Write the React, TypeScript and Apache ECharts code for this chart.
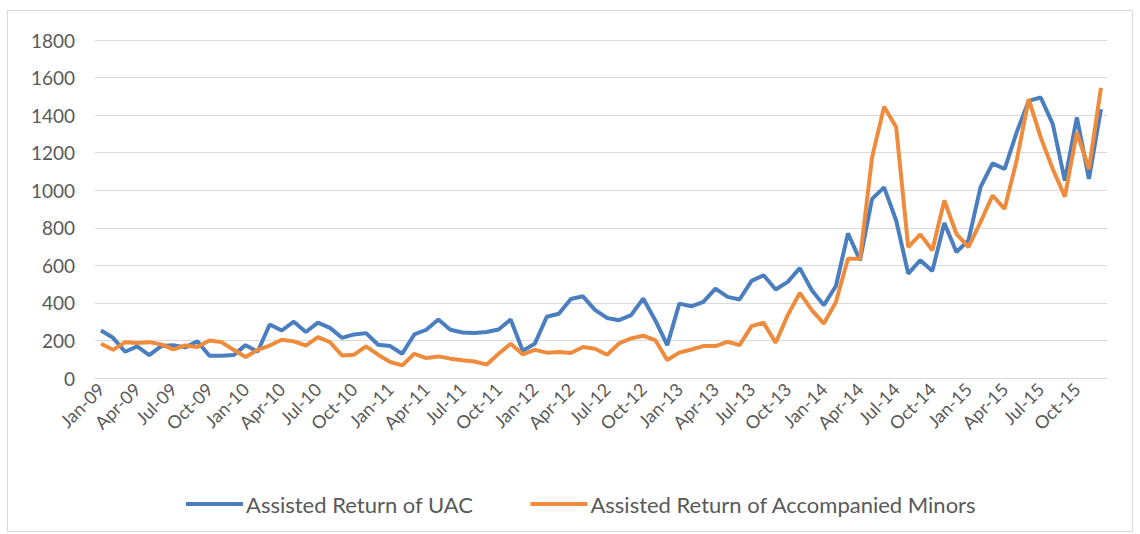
import React, { useEffect, useRef } from "react";
import * as echarts from "echarts";

const months = ["Jan", "Feb", "Mar", "Apr", "May", "Jun", "Jul", "Aug", "Sep", "Oct", "Nov", "Dec"];
const years = ["09", "10", "11", "12", "13", "14", "15"];
const categories: string[] = [];
years.forEach((y) => months.forEach((m) => categories.push(`${m}-${y}`)));

const uacValues = [
  253, 214, 140, 168, 122, 170, 175, 163, 195, 118, 118, 122,
  175, 140, 285, 253, 300, 245, 295, 267, 214, 232, 239, 177,
  170, 129, 232, 257, 312, 257, 242, 240, 245, 258, 312, 145,
  182, 326, 342, 421, 435, 363, 320, 308, 335, 423, 308, 175,
  396, 382, 405, 476, 432, 418, 517, 547, 471, 512, 585, 467,
  388, 490, 770, 627, 954, 1015, 839, 556, 627, 570, 825, 671,
  733, 1016, 1143, 1113, 1308, 1476, 1494, 1352, 1051, 1388, 1060, 1432,
];

const accompaniedValues = [
  182, 150, 191, 186, 191, 179, 152, 173, 165, 200, 191, 150,
  112, 150, 173, 204, 195, 173, 218, 191, 120, 124, 168, 124,
  85, 67, 129, 106, 115, 103, 94, 88, 71, 129, 182, 126,
  150, 135, 138, 133, 165, 156, 124, 184, 211, 225, 202, 96,
  135, 152, 170, 170, 193, 175, 276, 294, 188, 335, 453, 361,
  290, 405, 635, 635, 1175, 1445, 1335, 697, 765, 680, 945, 768,
  697, 830, 972, 901, 1158, 1485, 1281, 1113, 966, 1308, 1113, 1545,
];

const seriesNames = ["Assisted Return of UAC", "Assisted Return of Accompanied Minors"];

export default function App() {
  const ref = useRef<HTMLDivElement>(null);
  useEffect(() => {
    document.body.style.margin = "0";
    const chart = echarts.init(ref.current!, null, { renderer: "svg" });
    const font = "Lato, 'Liberation Sans', sans-serif";
    chart.setOption({
      animation: false,
      backgroundColor: "#ffffff",
      textStyle: { fontFamily: font },
      graphic: [
        {
          type: "rect",
          shape: { x: 7.5, y: 10.5, width: 1125, height: 521 },
          style: { fill: "none", stroke: "#D9D9D9", lineWidth: 1 },
          silent: true,
        },
      ],
      grid: { left: 95, right: 33, top: 40, bottom: 156 },
      legend: {
        left: 181,
        top: 488,
        icon: "rect",
        itemWidth: 57,
        itemHeight: 4,
        itemGap: 57,
        textStyle: { fontSize: 22, color: "#595959", fontFamily: font, padding: [0, 0, 0, -2] },
        data: seriesNames,
      },
      xAxis: {
        type: "category",
        data: categories,
        boundaryGap: true,
        axisLine: { show: true, lineStyle: { color: "#D9D9D9" } },
        axisTick: { show: false },
        axisLabel: {
          interval: 2,
          rotate: 45,
          fontSize: 18,
          color: "#595959",
          margin: 8,
          fontFamily: font,
        },
      },
      yAxis: {
        type: "value",
        min: 0,
        max: 1800,
        interval: 200,
        axisLine: { show: false },
        axisTick: { show: false },
        axisLabel: {
          fontSize: 19,
          color: "#595959",
          margin: 20,
          fontFamily: font,
          formatter: (v: number) => String(v),
        },
        splitLine: { lineStyle: { color: "#D9D9D9", width: 1 } },
      },
      series: [
        {
          name: seriesNames[0],
          type: "line",
          data: uacValues,
          symbol: "none",
          lineStyle: { width: 4, color: "#4A7EBF" },
          itemStyle: { color: "#4A7EBF" },
        },
        {
          name: seriesNames[1],
          type: "line",
          data: accompaniedValues,
          symbol: "none",
          lineStyle: { width: 4, color: "#EE8B3C" },
          itemStyle: { color: "#EE8B3C" },
        },
      ],
    });
    return () => chart.dispose();
  }, []);
  return <div ref={ref} style={{ width: 1140, height: 534 }} />;
}
